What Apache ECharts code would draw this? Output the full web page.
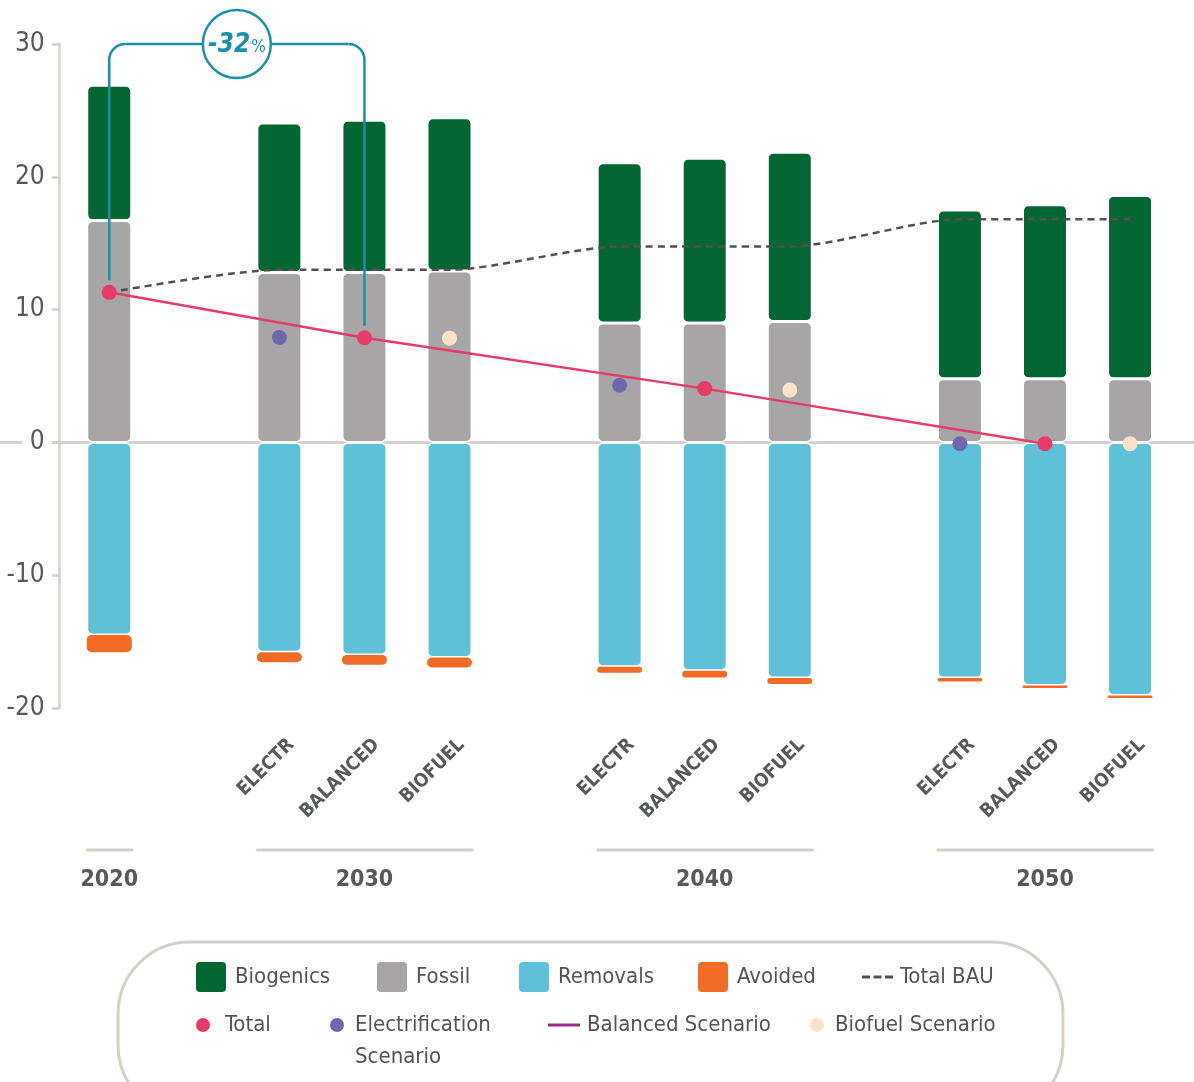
<!DOCTYPE html>
<html><head><meta charset="utf-8">
<script src="https://cdn.jsdelivr.net/npm/echarts@6/dist/echarts.min.js"></script>
<style>html,body{margin:0;padding:0;background:#fff}#c{width:1194px;height:1082px}</style>
</head><body><div id="c"></div>
<script>
// ---- data ----
const scenarioLabels = ['', '', 'ELECTR', 'BALANCED', 'BIOFUEL', '', 'ELECTR', 'BALANCED', 'BIOFUEL', '', 'ELECTR', 'BALANCED', 'BIOFUEL'];
const yearLabels = ['2020', '', '', '2030', '', '', '', '2040', '', '', '', '2050', ''];
const biogenics = [10.2, null, 11.25, 11.45, 11.55, null, 12.05, 12.4, 12.75, null, 12.7, 13.1, 13.8];
const fossil = [16.7, null, 12.8, 12.8, 12.9, null, 9.0, 9.0, 9.1, null, 4.8, 4.8, 4.8];
const removals = [-14.5, null, -15.8, -16.0, -16.2, null, -16.9, -17.2, -17.75, null, -17.75, -18.3, -19.05];
const avoided = [-1.3, null, -0.75, -0.75, -0.75, null, -0.45, -0.5, -0.45, null, -0.25, -0.2, -0.2];
const totalBAU = [11.3, null, 13.0, 13.0, 13.0, null, 14.75, 14.75, 14.75, null, 16.8, 16.8, 16.8];
const total = [11.3, null, null, 7.88, null, null, null, 4.05, null, null, null, -0.1, null];
const electrification = [null, null, 7.9, null, null, null, 4.3, null, null, null, -0.1, null, null];
const biofuel = [null, null, null, null, 7.85, null, null, null, 3.95, null, null, null, -0.1];
const yMin = -20, yMax = 30, yStep = 10;
const changeText = '-32';

// ---- style ----
const F = "'Liberation Sans Narrow','DejaVu Sans Condensed','Roboto Condensed','Arial Narrow',sans-serif";
const C = {
  bio: '#036633', fossil: '#A7A5A6', rem: '#5EC1D7', avo: '#EF6B26',
  bau: '#545050', total: '#E63C6A', elec: '#6E67AE', bal: '#9B2C8E', biof: '#FDE2C7',
  axis: '#D5D0CA', label: '#58595B', legend: '#5A5152', teal: '#1A90AD'
};
const BW = 45;
const rr = 'path://M4,0h22a4,4 0 0 1 4,4v22a4,4 0 0 1 -4,4h-22a4,4 0 0 1 -4,-4v-22a4,4 0 0 1 4,-4z';
const dashIcon = 'path://M0,0h8v3h-8z M11.5,0h8v3h-8z M23,0h8v3h-8z';
const lineIcon = 'path://M0,0h32v3h-32z';
const dotTopIcon = 'path://M0,7a7,7 0 1,0 14,0a7,7 0 1,0 -14,0z M6.99,45.99h0.02v0.01h-0.02z';

const chart = echarts.init(document.getElementById('c'), null, {renderer: 'canvas'});

function lg(name, left, top, icon, color, w, h, extra) {
  return {
    data: [{name: name, icon: icon, itemStyle: {color: color, borderWidth: 0}, lineStyle: {width: 0}}],
    left: left, top: top, padding: 0, itemWidth: w, itemHeight: h, selectedMode: false,
    textStyle: Object.assign({color: C.legend, fontSize: 22, fontFamily: F, lineHeight: 30}, extra || {})
  };
}

const legends = [
  lg('Biogenics', 196, 962, rr, C.bio, 30, 30, {padding: [0, 0, 0, 4]}),
  lg('Fossil', 377, 962, rr, C.fossil, 30, 30, {padding: [0, 0, 0, 4]}),
  lg('Removals', 519, 962, rr, C.rem, 30, 30, {padding: [0, 0, 0, 4]}),
  lg('Avoided', 698, 962, rr, C.avo, 30, 30, {padding: [0, 0, 0, 4]}),
  lg('Total BAU', 862, 962, dashIcon, C.bau, 31, 3, {padding: [0, 0, 0, 2]}),
  lg('Total', 196, 1010, 'circle', C.total, 14, 14, {padding: [0, 0, 0, 10]}),
  Object.assign(lg('Electrification Scenario', 330, 1009, dotTopIcon, C.elec, 14, 46, {padding: [0, 0, 0, 6], lineHeight: 32}),
    {formatter: function () { return 'Electrification\nScenario'; }}),
  lg('Balanced Scenario', 548, 1010, lineIcon, C.bal, 32, 3, {padding: [0, 0, 0, 2]}),
  lg('Biofuel Scenario', 810, 1010, 'circle', C.biof, 14, 14, {padding: [0, 0, 0, 6]})
];

const barBase = {type: 'bar', stack: 'all', barWidth: BW, xAxisIndex: 0};
const option = {
  animation: false,
  backgroundColor: '#fff',
  legend: legends,
  grid: {left: 66.7, right: 21.4, top: 44, bottom: 374},
  xAxis: [{
    type: 'category', data: scenarioLabels, position: 'bottom',
    axisLine: {show: false}, axisTick: {show: false},
    axisLabel: {interval: 0, rotate: 45, margin: 22, verticalAlign: 'top', lineHeight: 34,
      fontSize: 19, fontWeight: 'bold', fontFamily: F, color: C.label}
  }, {
    type: 'category', data: yearLabels, position: 'bottom',
    axisLine: {show: false}, axisTick: {show: false},
    axisLabel: {interval: 0, margin: 157, lineHeight: 30,
      fontSize: 23, fontWeight: 'bold', fontFamily: F, color: C.label}
  }],
  yAxis: {
    type: 'value', min: yMin, max: yMax, interval: yStep, offset: 7,
    axisLine: {show: true, lineStyle: {color: C.axis, width: 2.5}},
    axisTick: {show: true, length: 8, lineStyle: {color: C.axis, width: 2.5}},
    splitLine: {show: false},
    axisLabel: {margin: 15, fontSize: 26, fontFamily: F, color: C.label}
  },
  series: [
    Object.assign({}, barBase, {name: 'Fossil', data: fossil, itemStyle: {color: C.fossil, borderRadius: 5, borderColor: '#fff', borderWidth: 1.5}}),
    Object.assign({}, barBase, {name: 'Biogenics', data: biogenics, itemStyle: {color: C.bio, borderRadius: 5, borderColor: '#fff', borderWidth: 1.5}}),
    Object.assign({}, barBase, {name: 'Removals', data: removals, itemStyle: {color: C.rem, borderRadius: 5, borderColor: '#fff', borderWidth: 1.5}}),
    Object.assign({}, barBase, {name: 'Avoided', data: avoided, itemStyle: {color: C.avo, borderRadius: 5}}),
    {name: 'Total BAU', type: 'line', data: totalBAU, connectNulls: true, smooth: 0.25, symbol: 'none',
      lineStyle: {color: C.bau, width: 2.5, type: [7, 5]}, itemStyle: {color: C.bau}, z: 3},
    {name: 'Balanced Scenario', type: 'line', data: total, connectNulls: true, symbol: 'none',
      lineStyle: {color: C.total, width: 2.5}, itemStyle: {color: C.bal}, z: 3},
    {name: 'Total', type: 'scatter', data: total, symbolSize: 15, itemStyle: {color: C.total, opacity: 1}, z: 4},
    {name: 'Electrification Scenario', type: 'scatter', data: electrification, symbolSize: 15, itemStyle: {color: C.elec, opacity: 1}, z: 4},
    {name: 'Biofuel Scenario', type: 'scatter', data: biofuel, symbolSize: 15, itemStyle: {color: C.biof, opacity: 1}, z: 4}
  ]
};
chart.setOption(option);

// ---- decorations positioned from the axes ----
const px = i => chart.convertToPixel({xAxisIndex: 0}, i);
const py = v => chart.convertToPixel({yAxisIndex: 0}, v);
const y0 = py(0);
const g = [];
g.push({type: 'line', z: 0, shape: {x1: 0, y1: y0, x2: 22, y2: y0}, style: {stroke: C.axis, lineWidth: 3}});
g.push({type: 'line', z: 0, shape: {x1: 52, y1: y0, x2: 1194, y2: y0}, style: {stroke: C.axis, lineWidth: 3}});
// group underlines: runs of non-gap categories
let runStart = null;
for (let i = 0; i <= yearLabels.length; i++) {
  const isGap = i === yearLabels.length || (scenarioLabels[i] === '' && yearLabels[i] === '');
  if (!isGap && runStart === null) runStart = i;
  if (isGap && runStart !== null) {
    g.push({type: 'line', shape: {x1: px(runStart) - BW / 2 + 0.5, y1: 850, x2: px(i - 1) + BW / 2 + 0.5, y2: 850},
      style: {stroke: C.axis, lineWidth: 3, lineCap: 'round'}});
    runStart = null;
  }
}
// legend box
g.push({type: 'rect', shape: {x: 118, y: 942, width: 945, height: 175, r: 72}, style: {fill: 'none', stroke: C.axis, lineWidth: 3}});
// -32% bracket
const iA = 0, iB = 3;
const xA = px(iA), xB = px(iB), yT = py(yMax);
const yA = py(total[iA]) - 12, yB = py(total[iB]) - 12;
const r = 16;
const teal = {stroke: C.teal, lineWidth: 2.5, fill: 'none'};
g.push({type: 'line', z: 5, shape: {x1: xA, y1: yA, x2: xA, y2: yT + r}, style: teal});
g.push({type: 'arc', z: 5, shape: {cx: xA + r, cy: yT + r, r: r, startAngle: Math.PI, endAngle: Math.PI * 1.5, clockwise: true}, style: teal});
g.push({type: 'line', z: 5, shape: {x1: xA + r, y1: yT, x2: xB - r, y2: yT}, style: teal});
g.push({type: 'arc', z: 5, shape: {cx: xB - r, cy: yT + r, r: r, startAngle: -Math.PI / 2, endAngle: 0, clockwise: true}, style: teal});
g.push({type: 'line', z: 5, shape: {x1: xB, y1: yT + r, x2: xB, y2: yB}, style: teal});
const cx = (xA + xB) / 2;
g.push({type: 'circle', z: 6, shape: {cx: cx, cy: yT, r: 34}, style: {fill: '#fff', stroke: C.teal, lineWidth: 2.5}});
g.push({type: 'text', z: 7, x: cx, y: yT + 1, style: {
  text: '{a|' + changeText + '}{b|%}', align: 'center', verticalAlign: 'middle', fill: C.teal,
  rich: {a: {fontSize: 26, fontWeight: 'bold', fontStyle: 'italic', fontFamily: F, fill: C.teal},
         b: {fontSize: 17, fontFamily: F, fill: C.teal, padding: [5, 0, 0, 1]}}
}});
chart.setOption({graphic: g});
</script></body></html>
